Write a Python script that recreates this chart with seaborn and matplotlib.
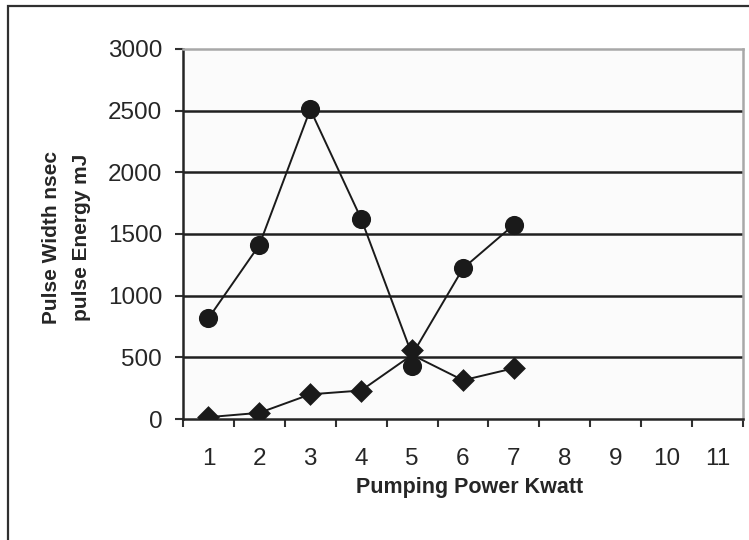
import numpy as np
import pandas as pd
import matplotlib.pyplot as plt
from matplotlib.patches import Rectangle
import seaborn as sns

# dados
power_labels = [str(p) for p in range(1, 12)]
pulse_width = [817, 1411, 2510, 1623, 426, 1221, 1575]      # círculos
pulse_energy = [15, 50, 200, 231, 557, 314, 412]            # losangos
# no original as duas linhas se cruzam em ~520 no ponto 5
width_line = [817, 1411, 2510, 1623, 520, 1221, 1575]
energy_line = [15, 50, 200, 231, 520, 314, 412]
y_ticks = [0, 500, 1000, 1500, 2000, 2500, 3000]

sns.set_style("white")
plt.rcParams['font.family'] = ['Liberation Sans', 'DejaVu Sans']

df = pd.DataFrame({
    "pos": np.arange(len(pulse_width)),
    "width": pulse_width,
    "energy": pulse_energy,
    "width_line": width_line,
    "energy_line": energy_line,
})

fig = plt.figure(figsize=(7.49, 5.40), dpi=100)
ax = fig.add_axes([183 / 749, 1 - 419 / 540, 560 / 749, 370 / 540])
ax.set_facecolor("#fbfbfb")

# moldura externa (sai da imagem à direita e embaixo)
fig.patches.append(Rectangle((8 / 749, -0.2), 1.2, 1.2 - 6 / 540,
                             transform=fig.transFigure, fill=False,
                             edgecolor="#303030", linewidth=1.6))

# grade horizontal
for v in y_ticks[1:-1]:
    ax.axhline(v, color="#202020", linewidth=1.8, zorder=1)

sns.lineplot(data=df, x="pos", y="width_line", color="#1a1a1a", linewidth=1.4,
             ax=ax, zorder=2)
sns.lineplot(data=df, x="pos", y="energy_line", color="#1a1a1a", linewidth=1.4,
             ax=ax, zorder=2)
sns.scatterplot(data=df, x="pos", y="width", marker="o", s=190, color="#1a1a1a",
                linewidth=0, ax=ax, zorder=3)
sns.scatterplot(data=df, x="pos", y="energy", marker="D", s=135, color="#1a1a1a",
                linewidth=0, ax=ax, zorder=3)

ax.set_xlim(-0.5, len(power_labels) - 0.5)
ax.set_ylim(0, 3000)
ax.set_yticks(y_ticks)
ax.set_xticks(np.arange(len(power_labels)))
ax.set_xticklabels(power_labels)
ax.set_xticks(np.arange(len(power_labels) + 1) - 0.5, minor=True)

ax.tick_params(axis="y", direction="out", length=6, width=1.5, color="#303030",
               labelsize=17.5, pad=9, left=True)
ax.tick_params(axis="x", which="major", length=0, labelsize=17.5, pad=21)
ax.tick_params(axis="x", which="minor", direction="out", length=6, width=1.5,
               color="#303030", bottom=True)

for side in ["left", "bottom"]:
    ax.spines[side].set_color("#252525")
    ax.spines[side].set_linewidth(1.8)
for side in ["top", "right"]:
    ax.spines[side].set_visible(True)
    ax.spines[side].set_color("#a8a8a8")
    ax.spines[side].set_linewidth(1.8)

ax.set_xlabel("Pumping Power Kwatt", fontsize=15.5, fontweight="bold", va="center")
ax.xaxis.set_label_coords(0.511, -0.184)
ax.set_ylabel("Pulse Width nsec\npulse Energy mJ", fontsize=15, fontweight="bold",
              va="center", linespacing=1.75)
ax.yaxis.set_label_coords(-0.208, 0.49)

fig.savefig("out.png", dpi=100)
